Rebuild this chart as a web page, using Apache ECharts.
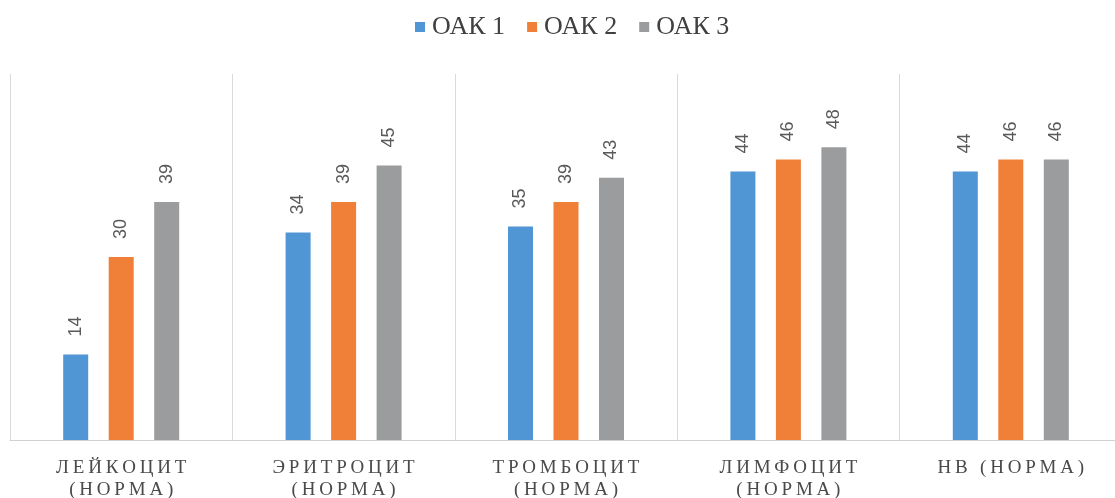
<!DOCTYPE html>
<html>
<head>
<meta charset="utf-8">
<script src="https://cdn.jsdelivr.net/npm/echarts@6/dist/echarts.min.js"></script>
<style>
  html, body { margin: 0; padding: 0; background: #fff; }
  #chart { width: 1115px; height: 498px; }
</style>
</head>
<body>
<div id="chart"></div>
<script>
// Blood-count indicators for three tests
const categories = ['ЛЕЙКОЦИТ\n(НОРМА)', 'ЭРИТРОЦИТ\n(НОРМА)', 'ТРОМБОЦИТ\n(НОРМА)', 'ЛИМФОЦИТ\n(НОРМА)', 'HB (НОРМА)'];
const seriesNames = ['ОАК 1', 'ОАК 2', 'ОАК 3'];
const oak1 = [14, 34, 35, 44, 44];
const oak2 = [30, 39, 39, 46, 46];
const oak3 = [39, 45, 43, 48, 46];
const colors = ['#5196d4', '#f07f38', '#9b9c9d'];

// widen letter spacing with thin spaces
const spaced = s => s.split('\n').map(line => line.split('').join('\u2009')).join('\n');

const chart = echarts.init(document.getElementById('chart'));
const values = [oak1, oak2, oak3];

chart.setOption({
  animation: false,
  color: colors,
  legend: {
    top: 9,
    left: 410,
    itemWidth: 10,
    itemHeight: 10,
    itemGap: 22,
    icon: 'rect',
    textStyle: { fontFamily: 'Liberation Serif', fontSize: 26, color: '#404040', padding: [0, 0, 0, 2] },
    data: seriesNames
  },
  grid: { left: 10, top: 74, width: 1112, height: 366, outerBoundsMode: 'none', containLabel: false },
  xAxis: {
    type: 'category',
    data: categories,
    axisTick: { show: false },
    axisLine: { lineStyle: { color: '#d0d0d0', width: 1 } },
    splitLine: { show: true, lineStyle: { color: '#d9d9d9', width: 1 } },
    axisLabel: {
      interval: 0,
      margin: 17,
      lineHeight: 22,
      fontFamily: 'Liberation Serif',
      fontSize: 19,
      color: '#4a4a4a',
      formatter: v => spaced(v)
    }
  },
  yAxis: { type: 'value', min: 0, max: 60, show: false, splitLine: { show: false } },
  series: seriesNames.map((name, i) => ({
    name,
    type: 'bar',
    data: values[i],
    barWidth: 25,
    barGap: '82%',
    label: {
      show: true,
      position: 'top',
      rotate: 90,
      align: 'left',
      verticalAlign: 'middle',
      distance: 18,
      fontFamily: 'Liberation Sans',
      fontSize: 18,
      color: '#595959'
    }
  }))
});
</script>
</body>
</html>
